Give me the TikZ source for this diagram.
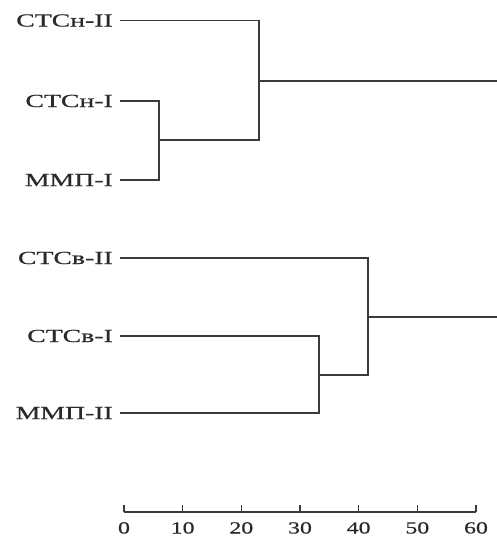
\documentclass[tikz,border=0pt]{standalone}
\usepackage{fontspec}
\setmainfont{Liberation Serif}
\newfontfamily\lblfont[FakeBold=0.5]{Liberation Serif}
\definecolor{ink}{HTML}{3A3A3A}
\definecolor{txt}{HTML}{2A2A2A}
\newcommand{\wide}[1]{\scalebox{1.5}[1]{#1}}
\newcommand{\wided}[1]{\scalebox{1.4}[1]{#1}}
\tikzset{
  lbl/.style={anchor=east, inner sep=0pt, text=txt, font=\lblfont\fontsize{18.5}{20}\selectfont},
  tick/.style={anchor=north, inner sep=0pt, text=txt, font=\lblfont\fontsize{17}{19}\selectfont},
  dline/.style={draw=ink, line width=1.1pt},
}
\begin{document}
\begin{tikzpicture}[x=1pt,y=-1pt]
\useasboundingbox (0,0) rectangle (497,536);
% labels
\node[lbl] (a1) at (113,20.5) {\wide{СТСн-II}};
\node[lbl] (a2) at (113,101) {\wide{СТСн-I}};
\node[lbl] (a3) at (113,180) {\wide{ММП-I}};
\node[lbl] (b1) at (113,258) {\wide{СТСв-II}};
\node[lbl] (b2) at (113,336) {\wide{СТСв-I}};
\node[lbl] (b3) at (113,413) {\wide{ММП-II}};
% junction coordinates
\coordinate (j1) at (159,140);
\coordinate (j2) at (259,81);
\coordinate (r1) at (497,81);
\coordinate (k1) at (319,375);
\coordinate (k2) at (368,317);
\coordinate (r2) at (497,317);
% top cluster
\draw[dline] ([xshift=7pt]a2.east) -| (j1) |- ([xshift=7pt]a3.east);
\draw[dline] ([xshift=7pt]a1.east) -| (j2) |- (j1);
\draw[dline] (j2) -- (r1);
% bottom cluster
\draw[dline] ([xshift=7pt]b2.east) -| (k1) |- ([xshift=7pt]b3.east);
\draw[dline] ([xshift=7pt]b1.east) -| (k2) |- (k1);
\draw[dline] (k2) -- (r2);
% axis
\coordinate (ax0) at (124,512);
\coordinate (ax1) at (476,512);
\draw[dline] (ax0) -- (ax1);
\foreach \v [count=\i from 0] in {0,10,20,30,40,50,60} {
  \draw[dline] (124+58.667*\i,512) -- (124+58.667*\i,505);
  \node[tick] (t\i) at (124+58.667*\i,522) {\wided{\v}};
}
\end{tikzpicture}
\end{document}
